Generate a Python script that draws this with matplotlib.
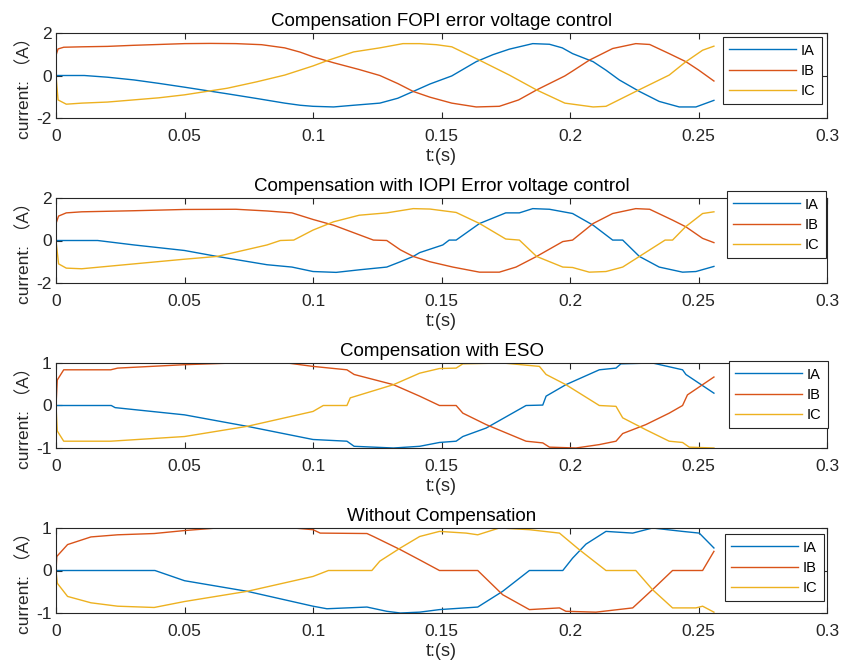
import matplotlib.pyplot as plt

plt.rcParams['font.family'] = ['Liberation Sans', 'Noto Sans CJK SC', 'DejaVu Sans']

# MATLAB default line colours
C_A = '#0072BD'
C_B = '#D95319'
C_C = '#EDB120'
AX_COL = '#262626'

titles = ['Compensation FOPI error voltage control',
          'Compensation with IOPI Error voltage control',
          'Compensation with ESO',
          'Without Compensation']
legend_labels = ['IA', 'IB', 'IC']

# (t, current) points of each phase current
fopi_ia = [(0, 0), (0.011, 0), (0.02, -0.08), (0.0304, -0.21), (0.04, -0.37), (0.05, -0.55),
           (0.058, -0.70), (0.0666, -0.86), (0.078, -1.08), (0.089, -1.3), (0.095, -1.4),
           (0.1, -1.45), (0.108, -1.48), (0.1158, -1.40), (0.126, -1.3), (0.133, -1.07),
           (0.139, -0.75), (0.1455, -0.40), (0.154, -0.02), (0.1635, 0.65), (0.17, 0.98),
           (0.1764, 1.24), (0.1855, 1.5), (0.192, 1.47), (0.197, 1.3), (0.201, 1.03),
           (0.209, 0.65), (0.214, 0.25), (0.2192, -0.21), (0.227, -0.75), (0.2347, -1.22),
           (0.2425, -1.48), (0.249, -1.48), (0.256, -1.17)]
fopi_ib = [(0, 0.95), (0.0008, 1.25), (0.003, 1.33), (0.01, 1.35), (0.02, 1.37), (0.03, 1.42),
           (0.04, 1.46), (0.05, 1.5), (0.06, 1.51), (0.07, 1.5), (0.08, 1.45), (0.089, 1.3),
           (0.095, 1.1), (0.1, 0.88), (0.108, 0.6), (0.118, 0.28), (0.126, 0.0),
           (0.133, -0.38), (0.139, -0.75), (0.1455, -1.02), (0.154, -1.3), (0.1635, -1.48),
           (0.1725, -1.45), (0.18, -1.15), (0.187, -0.68), (0.198, -0.02), (0.201, 0.21),
           (0.2075, 0.72), (0.2166, 1.27), (0.2256, 1.5), (0.231, 1.46), (0.2386, 1.03),
           (0.2451, 0.65), (0.25, 0.26), (0.256, -0.26)]
fopi_ic = [(0, 0), (0.0008, -1.15), (0.004, -1.35), (0.01, -1.3), (0.02, -1.25), (0.03, -1.15),
           (0.04, -1.05), (0.05, -0.91), (0.0666, -0.6), (0.078, -0.3), (0.089, 0.02),
           (0.1, 0.45), (0.106, 0.72), (0.1158, 1.11), (0.126, 1.3), (0.135, 1.5),
           (0.1415, 1.5), (0.148, 1.45), (0.154, 1.35), (0.1648, 0.72), (0.1764, 0.02),
           (0.187, -0.68), (0.198, -1.3), (0.209, -1.48), (0.214, -1.45), (0.2256, -0.75),
           (0.2386, 0.02), (0.2451, 0.65), (0.2516, 1.19), (0.256, 1.38)]

iopi_ia = [(0, 0), (0.0162, 0), (0.0304, -0.21), (0.05, -0.47), (0.0627, -0.75), (0.0821, -1.14),
           (0.0918, -1.25), (0.1, -1.46), (0.109, -1.5), (0.118, -1.38), (0.1287, -1.25),
           (0.134, -1.0), (0.139, -0.75), (0.1415, -0.57), (0.1505, -0.21), (0.153, 0.02),
           (0.1557, 0.02), (0.1648, 0.8), (0.175, 1.3), (0.1803, 1.3), (0.1855, 1.5),
           (0.192, 1.47), (0.201, 1.27), (0.209, 0.72), (0.2166, 0.02), (0.2205, 0.02),
           (0.227, -0.75), (0.2347, -1.25), (0.2438, -1.49), (0.249, -1.46), (0.256, -1.22)]
iopi_ib = [(0, 0.8), (0.001, 1.15), (0.004, 1.3), (0.01, 1.35), (0.03, 1.4), (0.05, 1.46),
           (0.07, 1.47), (0.0821, 1.39), (0.0918, 1.3), (0.1, 0.99), (0.108, 0.72),
           (0.1235, 0.02), (0.1287, 0.0), (0.134, -0.44), (0.139, -0.75), (0.1455, -1.0),
           (0.1544, -1.25), (0.1648, -1.49), (0.1725, -1.49), (0.179, -1.25), (0.187, -0.75),
           (0.1972, -0.05), (0.201, 0.02), (0.209, 0.8), (0.2166, 1.27), (0.2256, 1.5),
           (0.231, 1.47), (0.2399, 0.96), (0.245, 0.65), (0.2516, 0.1), (0.256, -0.1)]
iopi_ic = [(0, 0), (0.001, -1.1), (0.004, -1.3), (0.01, -1.33), (0.0304, -1.1), (0.05, -0.88),
           (0.0627, -0.75), (0.0821, -0.21), (0.0873, 0.0), (0.0925, 0.02), (0.1, 0.49),
           (0.108, 0.88), (0.118, 1.19), (0.1287, 1.3), (0.139, 1.5), (0.1455, 1.48),
           (0.1557, 1.32), (0.1648, 0.8), (0.175, 0.07), (0.1803, 0.02), (0.187, -0.75),
           (0.1972, -1.25), (0.201, -1.27), (0.2075, -1.49), (0.214, -1.46), (0.2205, -1.25),
           (0.227, -0.75), (0.237, 0.02), (0.2399, 0.02), (0.245, 0.65), (0.2516, 1.27),
           (0.256, 1.35)]

eso_ia = [(0, 0), (0.0215, 0), (0.023, -0.05), (0.05, -0.22), (0.0744, -0.49), (0.1, -0.8),
          (0.1132, -0.84), (0.116, -0.96), (0.1313, -1.0), (0.1415, -0.96), (0.1492, -0.87),
          (0.1557, -0.84), (0.1583, -0.73), (0.1674, -0.53), (0.1829, 0.0), (0.1894, 0.01),
          (0.1907, 0.22), (0.1984, 0.49), (0.2114, 0.84), (0.2179, 0.88), (0.2198, 0.98),
          (0.2321, 1.0), (0.2438, 0.84), (0.2451, 0.73), (0.256, 0.29)]
eso_ib = [(0, 0), (0.0005, 0.6), (0.003, 0.84), (0.0213, 0.84), (0.024, 0.88), (0.05, 0.96),
          (0.0692, 1.0), (0.09, 1.0), (0.1, 0.92), (0.1132, 0.84), (0.116, 0.73),
          (0.1313, 0.49), (0.1415, 0.22), (0.1492, 0.0), (0.1557, 0.0), (0.1583, -0.18),
          (0.1674, -0.45), (0.1829, -0.84), (0.1894, -0.88), (0.192, -0.98), (0.2023, -1.0),
          (0.2114, -0.92), (0.2179, -0.84), (0.2205, -0.66), (0.2295, -0.45), (0.2386, -0.18),
          (0.2438, 0.0), (0.2457, 0.25), (0.256, 0.67)]
eso_ic = [(0, 0), (0.0005, -0.6), (0.003, -0.84), (0.0213, -0.84), (0.05, -0.73), (0.0744, -0.49),
          (0.1, -0.14), (0.104, 0.0), (0.1132, 0.0), (0.1145, 0.18), (0.1313, 0.49),
          (0.1415, 0.76), (0.1492, 0.87), (0.1557, 0.88), (0.1583, 0.98), (0.1738, 1.0),
          (0.1881, 0.92), (0.1907, 0.73), (0.1984, 0.49), (0.2114, 0.0), (0.2179, -0.02),
          (0.2205, -0.29), (0.2295, -0.57), (0.2386, -0.84), (0.2438, -0.87), (0.2464, -0.98),
          (0.256, -1.0)]

nocomp_ia = [(0, 0), (0.0385, 0), (0.05, -0.24), (0.0744, -0.49), (0.1, -0.84), (0.1054, -0.9),
             (0.121, -0.86), (0.1287, -0.96), (0.134, -1.0), (0.1415, -0.98), (0.1492, -0.92),
             (0.1641, -0.86), (0.1738, -0.49), (0.1842, 0.0), (0.1972, 0.0), (0.201, 0.29),
             (0.2062, 0.62), (0.214, 0.92), (0.2244, 0.88), (0.2321, 1.0), (0.2438, 0.92),
             (0.2503, 0.88), (0.256, 0.53)]
nocomp_ib = [(0, 0), (0.0003, 0.33), (0.0045, 0.61), (0.0136, 0.79), (0.024, 0.84),
             (0.0382, 0.87), (0.05, 0.94), (0.0627, 1.0), (0.0925, 1.0), (0.1, 0.96),
             (0.1028, 0.88), (0.121, 0.87), (0.1235, 0.8), (0.134, 0.49), (0.1415, 0.25),
             (0.1492, 0.0), (0.1641, 0.0), (0.1738, -0.57), (0.1842, -0.92), (0.1959, -0.88),
             (0.1984, -0.96), (0.2101, -0.98), (0.2244, -0.88), (0.2321, -0.45), (0.2399, 0.0),
             (0.2516, 0.0), (0.256, 0.45)]
nocomp_ic = [(0, 0), (0.0005, -0.3), (0.0045, -0.61), (0.0136, -0.76), (0.024, -0.84),
             (0.0382, -0.87), (0.05, -0.73), (0.0744, -0.49), (0.1, -0.14), (0.106, 0.0),
             (0.1229, 0.0), (0.126, 0.22), (0.134, 0.53), (0.1415, 0.8), (0.1492, 0.92),
             (0.1596, 0.88), (0.1641, 0.84), (0.1725, 1.0), (0.1842, 0.96), (0.1959, 0.88),
             (0.2036, 0.49), (0.214, 0.0), (0.2256, 0.0), (0.2321, -0.45), (0.2399, -0.88),
             (0.249, -0.88), (0.2516, -0.84), (0.256, -0.98)]

panels = [(fopi_ia, fopi_ib, fopi_ic),
          (iopi_ia, iopi_ib, iopi_ic),
          (eso_ia, eso_ib, eso_ic),
          (nocomp_ia, nocomp_ib, nocomp_ic)]
ylims = [2, 2, 1, 1]

W, H = 842, 664
fig = plt.figure(figsize=(W / 100, H / 100), dpi=100)

# axes boxes in pixels: (top, bottom) and legend (right, top)
ax_rows = [(33, 118), (198, 283), (363, 448), (528, 613)]
leg_pos = [(822, 37), (826, 191), (828, 361), (824, 534)]
left, right = 56, 827

for i, (ia, ib, ic) in enumerate(panels):
    top, bot = ax_rows[i]
    ax = fig.add_axes([left / W, 1 - bot / H, (right - left) / W, (bot - top) / H])
    for series, col, lab in zip((ia, ib, ic), (C_A, C_B, C_C), legend_labels):
        t = [p[0] for p in series]
        v = [p[1] for p in series]
        ax.plot(t, v, color=col, lw=1.0, label=lab)

    lim = ylims[i]
    ax.set_xlim(0, 0.3)
    ax.set_ylim(-lim, lim)
    ax.set_xticks([0, 0.05, 0.1, 0.15, 0.2, 0.25, 0.3])
    ax.set_xticklabels(['0', '0.05', '0.1', '0.15', '0.2', '0.25', '0.3'])
    ax.set_yticks([-lim, 0, lim])
    ax.set_yticklabels([str(-lim), '0', str(lim)])
    ax.tick_params(direction='in', top=True, right=True, length=4, width=0.8,
                   labelsize=12.5, colors=AX_COL)
    ax.tick_params(axis='x', pad=8)
    ax.tick_params(axis='y', pad=3)
    for s in ax.spines.values():
        s.set_color(AX_COL)
        s.set_linewidth(0.8)

    ax.set_title(titles[i], fontsize=13.5, color='black', pad=5)
    ax.set_xlabel('t:(s)', fontsize=13, color=AX_COL, labelpad=3)
    ax.set_ylabel('current: （A）', fontsize=12.5, color=AX_COL)
    ax.yaxis.set_label_coords(-0.031, 0.4)

    lx, ly = leg_pos[i]
    leg = ax.legend(loc='upper right', bbox_to_anchor=(lx / W, 1 - ly / H),
                    bbox_transform=fig.transFigure, borderaxespad=0,
                    fancybox=False, framealpha=1, edgecolor=AX_COL, fontsize=10.5,
                    handlelength=4.6, handletextpad=0.3, labelspacing=0.42,
                    borderpad=0.45)
    leg.get_frame().set_linewidth(0.8)

fig.savefig('out.png', dpi=100)
